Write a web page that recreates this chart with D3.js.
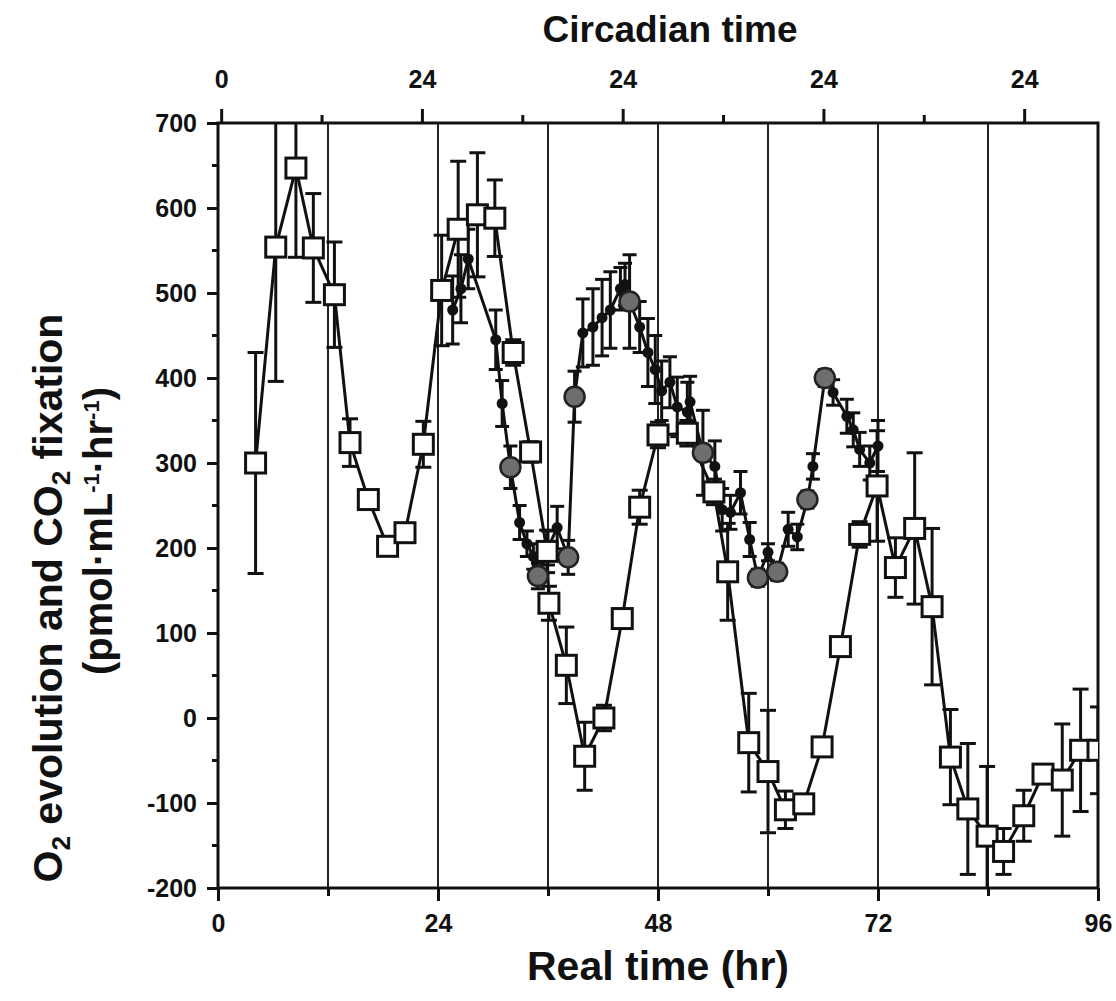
<!DOCTYPE html>
<html>
<head>
<meta charset="utf-8">
<script src="https://cdn.jsdelivr.net/npm/d3@7"></script>
<style>
  html, body { margin: 0; padding: 0; background: #fff; }
  svg text { font-family: "Liberation Sans", Arial, Helvetica, sans-serif; font-weight: bold; fill: #111; }
</style>
</head>
<body>
<svg id="chart" width="1116" height="1001"></svg>
<script>
// O2 evolution (open squares): [real time hr, value, error]
const o2Series = [
  [4.1, 300, 130], [6.3, 554, 158], [8.5, 647, 105], [10.4, 553, 64], [12.7, 498, 62],
  [14.4, 324, 28], [16.4, 257, 6], [18.5, 202, 6], [20.4, 218, 8], [22.4, 322, 27],
  [24.4, 503, 65], [26.2, 575, 80], [28.3, 592, 73], [30.2, 588, 45], [32.2, 430, 15],
  [34.1, 313, 12], [35.9, 196, 25], [36.1, 135, 20], [38.0, 62, 45], [40.0, -45, 40],
  [42.1, 0, 15], [44.1, 117, 10], [46.0, 248, 20], [48.0, 333, 15], [51.2, 335, 15],
  [54.1, 266, 15], [55.6, 172, 57], [57.9, -29, 58], [60.0, -63, 72], [61.9, -108, 22],
  [63.9, -101, 8], [65.9, -34, 8], [67.9, 84, 10], [70.0, 216, 15], [71.9, 273, 65],
  [73.9, 177, 35], [76.0, 223, 89], [77.9, 131, 92], [79.9, -46, 56], [81.8, -107, 77],
  [83.9, -139, 82], [85.7, -157, 27], [87.9, -115, 30], [90.0, -66, 8], [92.1, -73, 66],
  [94.1, -38, 72], [96.0, -38, 51]
];

// CO2 fixation, frequent samples (small filled dots): [hr, value, error]
const co2Dots = [
  [25.6, 480, 40], [26.5, 505, 40], [27.3, 540, 35], [30.3, 445, 35], [31.0, 370, 27],
  [32.9, 230, 20], [33.7, 205, 15], [34.4, 190, 15], [36.0, 200, 20], [37.0, 224, 25],
  [39.8, 453, 40], [40.9, 460, 45], [41.9, 471, 45], [42.8, 480, 45], [43.9, 505, 25],
  [44.4, 510, 25], [46.0, 460, 30], [46.9, 430, 40], [47.7, 410, 40], [48.4, 385, 35],
  [49.3, 395, 30], [50.1, 366, 35], [51.2, 360, 35], [51.5, 372, 30], [54.2, 296, 30],
  [55.0, 245, 25], [55.9, 242, 20], [57.0, 265, 25], [58.0, 210, 20], [60.0, 195, 10],
  [62.2, 222, 20], [63.2, 213, 15], [64.9, 296, 15], [67.1, 383, 15], [68.6, 355, 20],
  [69.3, 339, 20], [70.0, 316, 20], [71.1, 300, 20], [72.0, 320, 30]
];

// CO2 fixation, reference samples (large grey circles): [hr, value, error]
const co2Grey = [
  [31.9, 295, 25], [34.9, 167, 15], [38.2, 189, 20], [38.9, 378, 30], [44.9, 490, 55],
  [52.9, 312, 50], [58.9, 165, 10], [61.0, 172, 10], [64.3, 257, 10], [66.2, 400, 10]
];

// Axis ticks and labels
const realTicks = [0, 12, 24, 36, 48, 60, 72, 84, 96];
const realTickLabels = ["0", "", "24", "", "48", "", "72", "", "96"];
const dayLines = [12, 24, 36, 48, 60, 72, 84];
const yTicks = [-200, -100, 0, 100, 200, 300, 400, 500, 600, 700];
const yMinorTicks = [-150, -50, 50, 150, 250, 350, 450, 550, 650];
// Circadian axis: free-running period (real hr) and phase offset
const circadianPeriod = 21.9;
const circadianOffset = 0.4;
const circadianTickLabels = ["0", "", "24", "", "24", "", "24", "", "24"];

const svg = d3.select("#chart");
const W = 1116, H = 1001;
const plot = { left: 218, right: 1098, top: 123, bottom: 888 };

const x = d3.scaleLinear().domain([0, 96]).range([plot.left, plot.right]);
const y = d3.scaleLinear().domain([-200, 700]).range([plot.bottom, plot.top]);

svg.append("rect").attr("width", W).attr("height", H).attr("fill", "#fff");

svg.append("defs").append("clipPath").attr("id", "plotClip")
  .append("rect")
  .attr("x", plot.left).attr("y", plot.top)
  .attr("width", plot.right - plot.left).attr("height", plot.bottom - plot.top);

// Day boundary lines
svg.append("g").selectAll("line").data(dayLines).join("line")
  .attr("x1", d => x(d)).attr("x2", d => x(d))
  .attr("y1", plot.top).attr("y2", plot.bottom)
  .attr("stroke", "#222").attr("stroke-width", 2);

// Bottom axis
const xAxis = d3.axisBottom(x)
  .tickValues(realTicks)
  .tickFormat((d, i) => realTickLabels[i])
  .tickSizeOuter(0);
const gx = svg.append("g").attr("transform", `translate(0,${plot.bottom})`).call(xAxis);
gx.select(".domain").remove();
gx.selectAll(".tick line").attr("stroke", "#111").attr("stroke-width", 3)
  .attr("y2", d => (d % 24 === 0 ? 13 : 8));
gx.selectAll(".tick text").attr("font-size", 25).attr("dy", 0).attr("y", 44);

// Left axis
const yAxis = d3.axisLeft(y).tickValues(yTicks).tickFormat(d => String(d))
  .tickSizeOuter(0).tickSize(11).tickPadding(10);
const gy = svg.append("g").attr("transform", `translate(${plot.left},0)`).call(yAxis);
gy.select(".domain").remove();
gy.selectAll(".tick line").attr("stroke", "#111").attr("stroke-width", 3);
gy.selectAll(".tick text").attr("font-size", 25).attr("dy", "0.35em");
svg.append("g").selectAll("line").data(yMinorTicks).join("line")
  .attr("x1", plot.left - 6).attr("x2", plot.left)
  .attr("y1", d => y(d)).attr("y2", d => y(d))
  .attr("stroke", "#111").attr("stroke-width", 3);

// Top circadian axis
const circTickHours = circadianTickLabels.map((_, i) => circadianOffset + i * circadianPeriod / 2);
const gTop = svg.append("g");
gTop.selectAll("line").data(circTickHours).join("line")
  .attr("x1", d => x(d)).attr("x2", d => x(d))
  .attr("y1", plot.top).attr("y2", (d, i) => plot.top - (i % 2 === 0 ? 14 : 8))
  .attr("stroke", "#111").attr("stroke-width", 3);
gTop.selectAll("text").data(circTickHours).join("text")
  .attr("x", d => x(d)).attr("y", 88)
  .attr("text-anchor", "middle").attr("font-size", 25)
  .text((d, i) => circadianTickLabels[i]);

// Frame
svg.append("rect")
  .attr("x", plot.left).attr("y", plot.top)
  .attr("width", plot.right - plot.left).attr("height", plot.bottom - plot.top)
  .attr("fill", "none").attr("stroke", "#111").attr("stroke-width", 3);

const line = d3.line().x(d => x(d[0])).y(d => y(d[1]));
const data = svg.append("g").attr("clip-path", "url(#plotClip)");

// Connecting lines
const co2All = co2Dots.concat(co2Grey).sort((a, b) => a[0] - b[0]);
data.append("path").datum(co2All).attr("d", line)
  .attr("fill", "none").attr("stroke", "#111").attr("stroke-width", 3);
data.append("path").datum(o2Series).attr("d", line)
  .attr("fill", "none").attr("stroke", "#111").attr("stroke-width", 3);

// Error bars
function errorBars(series, capHalf) {
  const g = data.append("g").attr("stroke", "#111").attr("stroke-width", 3);
  const withErr = series.filter(d => d[2] > 0);
  g.selectAll(".stem").data(withErr).join("line")
    .attr("x1", d => x(d[0])).attr("x2", d => x(d[0]))
    .attr("y1", d => y(d[1] - d[2])).attr("y2", d => y(d[1] + d[2]));
  g.selectAll(".capTop").data(withErr).join("line")
    .attr("x1", d => x(d[0]) - capHalf).attr("x2", d => x(d[0]) + capHalf)
    .attr("y1", d => y(d[1] + d[2])).attr("y2", d => y(d[1] + d[2]));
  g.selectAll(".capBot").data(withErr).join("line")
    .attr("x1", d => x(d[0]) - capHalf).attr("x2", d => x(d[0]) + capHalf)
    .attr("y1", d => y(d[1] - d[2])).attr("y2", d => y(d[1] - d[2]));
}
errorBars(co2Dots, 7);
errorBars(co2Grey, 7);
errorBars(o2Series, 8);

// Markers
data.append("g").selectAll("circle").data(co2Dots).join("circle")
  .attr("cx", d => x(d[0])).attr("cy", d => y(d[1])).attr("r", 5.5)
  .attr("fill", "#111");
data.append("g").selectAll("circle").data(co2Grey).join("circle")
  .attr("cx", d => x(d[0])).attr("cy", d => y(d[1])).attr("r", 10)
  .attr("fill", "#6e6e6e").attr("stroke", "#222").attr("stroke-width", 2.5);
data.append("g").selectAll("rect").data(o2Series).join("rect")
  .attr("x", d => x(d[0]) - 10).attr("y", d => y(d[1]) - 10)
  .attr("width", 20).attr("height", 20)
  .attr("fill", "#fff").attr("stroke", "#111").attr("stroke-width", 3);

// Titles
svg.append("text").attr("x", 670).attr("y", 42).attr("text-anchor", "middle")
  .attr("font-size", 37).text("Circadian time");
svg.append("text").attr("x", 658).attr("y", 980).attr("text-anchor", "middle")
  .attr("font-size", 41).text("Real time (hr)");

const yl1 = svg.append("text").attr("text-anchor", "middle").attr("font-size", 41)
  .attr("transform", "translate(62,598) rotate(-90)");
yl1.append("tspan").text("O");
yl1.append("tspan").attr("font-size", 26).attr("dy", 8).text("2");
yl1.append("tspan").attr("dy", -8).text(" evolution and CO");
yl1.append("tspan").attr("font-size", 26).attr("dy", 8).text("2");
yl1.append("tspan").attr("dy", -8).text(" fixation");

const yl2 = svg.append("text").attr("text-anchor", "middle").attr("font-size", 40)
  .attr("transform", "translate(112,531) rotate(-90)");
yl2.append("tspan").text("(pmol·mL");
yl2.append("tspan").attr("font-size", 22).attr("dy", -13).text("-1");
yl2.append("tspan").attr("dy", 13).text("·hr");
yl2.append("tspan").attr("font-size", 22).attr("dy", -13).text("-1");
yl2.append("tspan").attr("dy", 13).text(")");
</script>
</body>
</html>
